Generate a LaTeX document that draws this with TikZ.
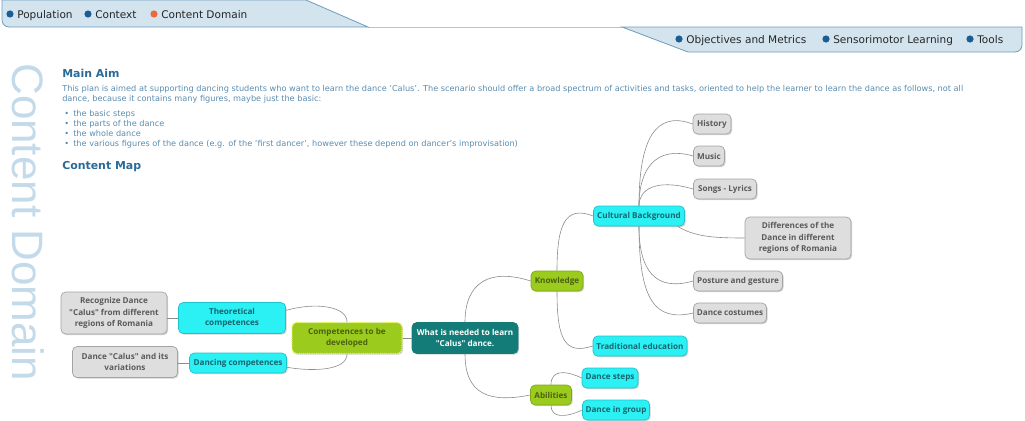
\documentclass[tikz,border=0pt]{standalone}
\usepackage{fontspec}
\setmainfont{DejaVu Sans}
\newfontfamily\mapfont{Open Sans}
\newfontfamily\sidefont{Liberation Sans}
\usepackage{xcolor}
\usetikzlibrary{shadows,positioning}

\definecolor{tabfill}{HTML}{D3E4EF}
\definecolor{tabline}{HTML}{6E9CBD}
\definecolor{tabthin}{HTML}{A9C8DC}
\definecolor{dotblue}{HTML}{1B5E94}
\definecolor{dotorange}{HTML}{EE6A3C}
\definecolor{headblue}{HTML}{2A6A98}
\definecolor{bodyblue}{HTML}{5A8CB0}
\definecolor{sideblue}{HTML}{C3DAEA}
\definecolor{cyanfill}{HTML}{2BF0F4}
\definecolor{cyanline}{HTML}{1CC3CC}
\definecolor{cyantext}{HTML}{17656E}
\definecolor{greenfill}{HTML}{9BCB1C}
\definecolor{greenline}{HTML}{7FA814}
\definecolor{greentext}{HTML}{4C6010}
\definecolor{dotyellow}{HTML}{E9F05A}
\definecolor{grayfill}{HTML}{DEDEDE}
\definecolor{grayline}{HTML}{A3A3A3}
\definecolor{graytext}{HTML}{5A5A5A}
\definecolor{tealfill}{HTML}{147C78}
\definecolor{linkgray}{HTML}{8C8C8C}

\begin{document}
\begin{tikzpicture}[x=0.75pt,y=-0.75pt,
    sz/.style 2 args={minimum width=#1*0.75pt, minimum height=#2*0.75pt},
    mapnode/.style={rounded corners=3.5pt, align=center, inner sep=1pt, line width=.5pt,
      font=\mapfont\bfseries\fontsize{6.1}{8.6}\selectfont,
      drop shadow={shadow xshift=.9pt, shadow yshift=-.9pt, opacity=.35}},
    cyannode/.style={mapnode, fill=cyanfill, draw=cyanline, text=cyantext},
    greennode/.style={mapnode, fill=greenfill, draw=greenline, text=greentext},
    graynode/.style={mapnode, fill=grayfill, draw=grayline, text=graytext},
    link/.style={draw=linkgray, line width=.45pt},
    tabtext/.style={anchor=base west, inner sep=0pt, text=black!85, font=\fontsize{7.9}{9}\selectfont},
    bodytext/.style={anchor=base west, inner sep=0pt, text=bodyblue, font=\fontsize{6.13}{7.5}\selectfont},
    headtext/.style={anchor=base west, inner sep=0pt, text=headblue, font=\bfseries\fontsize{8.2}{10}\selectfont}]
\useasboundingbox (0,0) rectangle (1025,421);

% Drawing the tabs on top
\draw [tabthin, line width=.6pt] (368,27) -- (622,27);
\draw [tabline, fill=tabfill, line width=.6pt] (2,0) -- (306,0) -- (368,27) -- (9,27)
  to[out=180,in=270] (2,20) -- cycle;
\draw [tabline, fill=tabfill, line width=.6pt] (622,27) -- (1022,27) -- (1022,45)
  to[out=270,in=0] (1015,52) -- (688,52) -- cycle;

% Marking the tab entries
\fill [dotblue] (10,14) circle (3.6);
\node [tabtext] (population) at (17,18) {Population};
\fill [dotblue] (88,14) circle (3.6);
\node [tabtext] (context) at (95,18) {Context};
\fill [dotorange] (154,14) circle (3.6);
\node [tabtext] (domain) at (161,18) {Content Domain};
\fill [dotblue] (679,39) circle (3.6);
\node [tabtext] (objectives) at (686,43) {Objectives and Metrics};
\fill [dotblue] (826,39) circle (3.6);
\node [tabtext] (sensorimotor) at (833,43) {Sensorimotor Learning};
\fill [dotblue] (970,39) circle (3.6);
\node [tabtext] (tools) at (977,43) {Tools};

% Side title
\node [rotate=-90, anchor=west, inner sep=0pt, text=sideblue,
  font=\sidefont\fontsize{33}{33}\selectfont] (side) at (28,63) {Content Domain};

% Main aim text
\node [headtext] (mainaim) at (62,77) {Main Aim};
\node [bodytext] (line1) at (62,91) {This plan is aimed at supporting dancing students who want to learn the dance 'Calus'. The scenario should offer a broad spectrum of activities and tasks, oriented to help the learner to learn the dance as follows, not all};
\node [bodytext] (line2) at (62,101) {dance, because it contains many figures, maybe just the basic:};
\foreach \y/\t in {116/the basic steps, 126/the parts of the dance, 136/the whole dance,
    146/{the various figures of the dance (e.g. of the 'first dancer', however these depend on dancer's improvisation)}}{
  \node [bodytext] at (64,\y) {\textbullet};
  \node [bodytext] at (73,\y) {\t};
}
\node [headtext] (contentmap) at (62,169) {Content Map};

% Drawing the map nodes
\node [mapnode, sz={106}{31}, fill=tealfill, draw=tealfill, text=white] (what) at (465,338) {What is needed to learn\\"Calus" dance.};
\node [mapnode, sz={110}{31}, fill=greenfill, draw=dotyellow, text=greentext,
  line width=.9pt, dash pattern=on .8pt off .8pt] (comp) at (347,338) {Competences to be\\developed};
\node [cyannode, sz={107}{31}] (theo) at (232,318) {Theoretical\\competences};
\node [cyannode, sz={97}{20}] (danc) at (238,363) {Dancing competences};
\node [graynode, sz={106}{42}] (recog) at (114,313) {Recognize Dance\\"Calus" from different\\regions of Romania};
\node [graynode, sz={105}{31}] (dcalus) at (125,362) {Dance "Calus" and its\\variations};
\node [greennode, sz={52}{20}] (know) at (557,281) {Knowledge};
\node [greennode, sz={41}{20}] (abil) at (551,395) {Abilities};
\node [cyannode, sz={91}{20}] (cult) at (639,216) {Cultural Background};
\node [cyannode, sz={94}{20}] (trad) at (640,346) {Traditional education};
\node [cyannode, sz={56}{20}] (steps) at (610,378) {Dance steps};
\node [cyannode, sz={67}{20}] (group) at (616,410) {Dance in group};
\node [graynode, sz={38}{20}] (hist) at (712,124) {History};
\node [graynode, sz={31}{20}] (music) at (709,156) {Music};
\node [graynode, sz={63}{20}] (songs) at (725,189) {Songs - Lyrics};
\node [graynode, sz={106}{42}] (diff) at (798,238) {Differences of the\\Dance in different\\regions of Romania};
\node [graynode, sz={89}{20}] (post) at (738,281) {Posture and gesture};
\node [graynode, sz={73}{20}] (cost) at (730,313) {Dance costumes};

% Drawing the links
\draw [link] (comp.east) -- (what.west);
\draw [link] (theo.west) -- (recog.east |- theo.west);
\draw [link] (danc.west) -- (dcalus.east |- danc.west);
\draw [link] (comp.north) .. controls (347,306) and (315,302) .. (theo.8);
\draw [link] (comp.south) .. controls (347,370) and (315,372) .. (danc.-5);
\draw [link] (what.north) .. controls (465,282) and (490,268) .. (know.west);
\draw [link] (what.south) .. controls (465,395) and (490,403) .. (abil.west);
\draw [link] (know.north) .. controls (557,225) and (565,205) .. (cult.west);
\draw [link] (know.south) .. controls (557,340) and (565,355) .. (trad.west);
\draw [link] (abil.north) .. controls (551,370) and (565,370) .. (steps.west);
\draw [link] (abil.south) .. controls (551,418) and (565,418) .. (group.west);
\draw [link] (cult.north) .. controls (639,140) and (655,110) .. (hist.west);
\draw [link] (cult.north) .. controls (639,170) and (655,145) .. (music.west);
\draw [link] (cult.north) .. controls (639,190) and (655,178) .. (songs.west);
\draw [link] (cult.south) .. controls (639,270) and (655,292) .. (post.west);
\draw [link] (cult.south) .. controls (639,300) and (655,322) .. (cost.west);
\draw [link] (cult.-15) .. controls (695,237) and (715,238) .. (diff.west);
\end{tikzpicture}
\end{document}
